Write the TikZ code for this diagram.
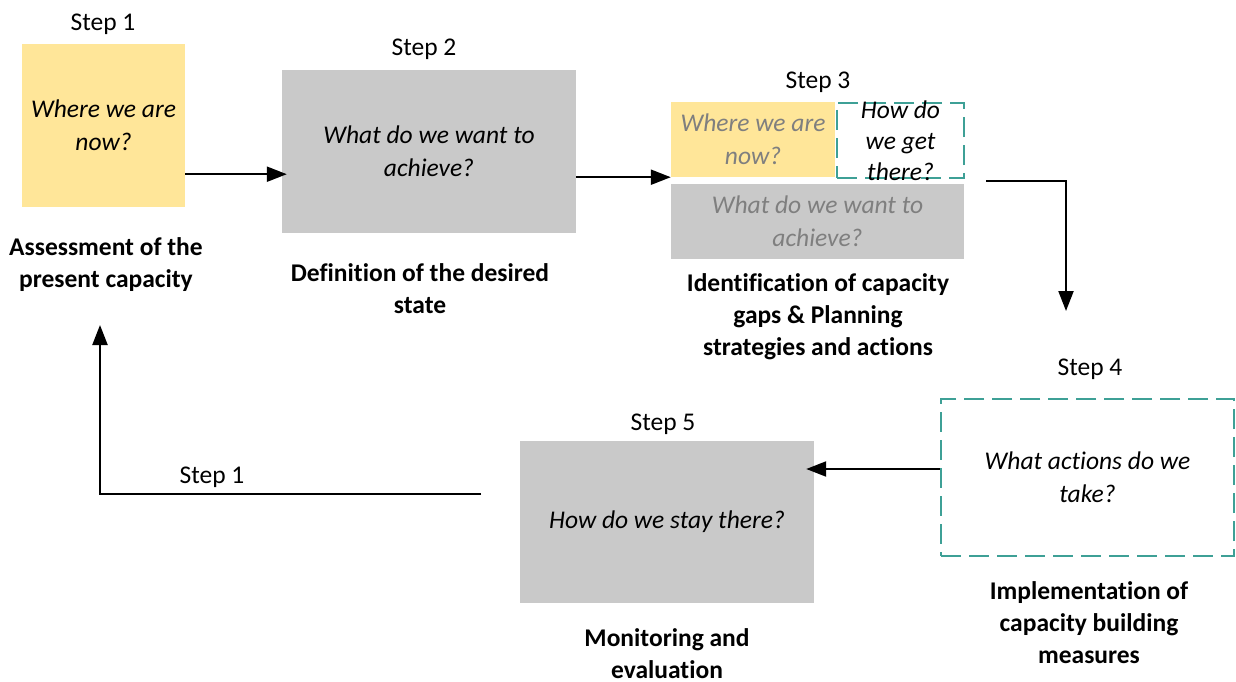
\documentclass[tikz,border=0pt]{standalone}
\usepackage{fontspec}
\setmainfont{Carlito}[Ligatures=NoCommon]
\usetikzlibrary{arrows.meta,calc}
\definecolor{paleyellow}{RGB}{255,230,153}
\definecolor{boxgray}{RGB}{201,201,201}
\definecolor{tealdash}{RGB}{62,160,150}
\definecolor{fadedtext}{RGB}{127,127,127}
\begin{document}
\begin{tikzpicture}[x=1pt,y=-1pt,
  yellowbox/.style={fill=paleyellow, draw=none, inner sep=0pt},
  graybox/.style={fill=boxgray, draw=none, inner sep=0pt},
  dashbox/.style={draw=tealdash, line width=2.4pt, dash pattern=on 20pt off 8pt, fill=white, inner sep=0pt},
  question/.style={font=\fontsize{25.5}{33}\selectfont\itshape, align=center},
  steplabel/.style={font=\fontsize{25.5}{33}\selectfont, anchor=base, inner sep=0pt},
  caption/.style={font=\fontsize{25.5}{32}\selectfont\bfseries, align=center, anchor=base, inner sep=0pt},
  flow/.style={line width=2.2pt, -{Triangle[length=20pt,width=15pt]}},
]
\useasboundingbox (0,0) rectangle (1236,682);

% Step 1: present capacity
\node[yellowbox, minimum width=163pt, minimum height=163pt, question] (b1) at (103.5,125.5) {Where we are\\now?};
\node[steplabel] (s1) at (103,31) {Step 1};
\node[caption] (c1) at (106,287) {Assessment of the\\present capacity};

% Step 2: desired state
\node[graybox, minimum width=294pt, minimum height=163pt, question] (b2) at (429,151.5) {What do we want to\\achieve?};
\node[steplabel] (s2) at (424,56) {Step 2};
\node[caption] (c2) at (420,313) {Definition of the desired\\state};

% Step 3: gaps and planning
\node[yellowbox, minimum width=164pt, minimum height=75pt, question, text=fadedtext] (b3a) at (753,139.5) {Where we are\\now?};
\node[dashbox, minimum width=127pt, minimum height=75pt] (b3b) at (900.5,140.5) {};
\node[question, font=\fontsize{25.5}{31}\selectfont\itshape, inner sep=0pt] (t3b) at (b3b.center) {How do\\we get\\there?};
\node[graybox, minimum width=293pt, minimum height=75pt, question, text=fadedtext] (b3c) at (817.5,221.5) {What do we want to\\achieve?};
\node[steplabel] (s3) at (818,89) {Step 3};
\node[caption] (c3) at (818,355) {Identification of capacity\\gaps \& Planning\\strategies and actions};

% Step 4: implementation
\node[dashbox, minimum width=293pt, minimum height=157pt, question] (b4) at (1087.5,477.5) {What actions do we\\take?};
\node[steplabel] (s4) at (1090,375) {Step 4};
\node[caption] (c4) at (1089,663) {Implementation of\\capacity building\\measures};

% Step 5: monitoring
\node[graybox, minimum width=294pt, minimum height=162pt, question] (b5) at (667,522) {How do we stay there?};
\node[steplabel] (s5) at (663,430) {Step 5};
\node[caption] (c5) at (667,678) {Monitoring and\\evaluation};

% Return to step 1
\node[steplabel] (s1b) at (212,483) {Step 1};

% Connectors
\draw[flow] ([yshift=33pt]b1.south east) coordinate (a1) -- ([xshift=5pt]a1 -| b2.west);
\draw[flow] ([yshift=56pt]b2.south east) coordinate (a2) -- (a2 -| b3a.west);
\coordinate (a3s) at (986,181);
\coordinate (a3e) at (1066,311);
\draw[flow] (a3s) -- (a3s -| a3e) -- (a3e);
\draw[flow] ([yshift=8.5pt]b4.west) coordinate (a4) -- ([xshift=-8pt]a4 -| b5.east);
\coordinate (a5s) at (481,494);
\coordinate (a5e) at (100,325);
\draw[flow] (a5s) -- (a5s -| a5e) -- (a5e);
\end{tikzpicture}
\end{document}
